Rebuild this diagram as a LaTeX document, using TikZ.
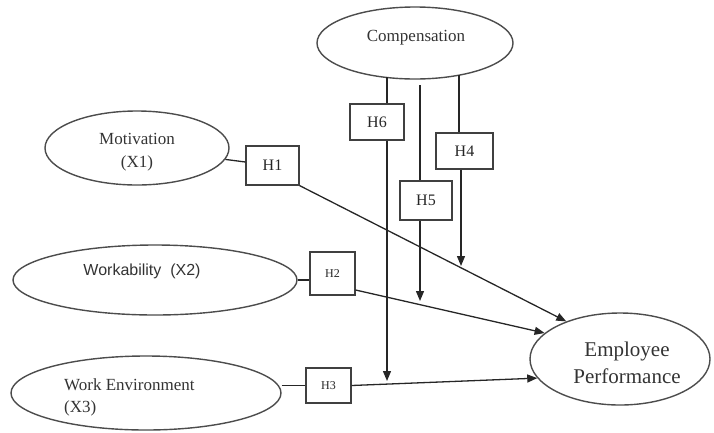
\documentclass[tikz,border=0pt]{standalone}
\usepackage{fontspec}
\setmainfont{Liberation Serif}
\newfontfamily\arialfont{Liberation Sans}
\usetikzlibrary{shapes.geometric,arrows.meta}
\tikzset{
  var/.style={ellipse,draw=black!70,line width=1.4pt,inner sep=0pt,text=black!80},
  hyp/.style={rectangle,draw=black!75,line width=1.2pt,inner sep=0pt,text=black!85,font=\fontsize{16}{18}\selectfont},
  hyps/.style={hyp,font=\fontsize{12}{14}\selectfont},
  conn/.style={line width=1.3pt,draw=black!85},
  arr/.style={conn,-{Triangle[length=10pt,width=8pt]}},
  txt/.style={text=black!80,inner sep=0pt}
}
\begin{document}
\begin{tikzpicture}[x=1pt,y=-1pt]
\useasboundingbox (0,0) rectangle (714,432);
% variables
\node[var,minimum width=196pt,minimum height=72pt] (comp) at (415,43) {};
\node[txt,font=\fontsize{17}{20}\selectfont] (comptext) at (416,38) {Compensation};
\node[var,minimum width=184pt,minimum height=74pt] (mot) at (137,148) {};
\node[txt,align=center,font=\fontsize{17}{23}\selectfont] (mottext) at (137,152) {Motivation\\(X1)};
\node[var,minimum width=284pt,minimum height=70pt] (work) at (155,280) {};
\node[txt,font=\arialfont\fontsize{16}{19}\selectfont] (worktext) at (142,271) {Workability\ \ (X2)};
\node[var,minimum width=270pt,minimum height=74pt] (we) at (146,393) {};
\node[txt,align=left,anchor=west,font=\fontsize{17}{22}\selectfont] (wetext) at (64,397) {Work Environment\\(X3)};
\node[var,minimum width=180pt,minimum height=92pt] (emp) at (620,359) {};
\node[txt,align=center,font=\fontsize{21}{27}\selectfont] (emptext) at (627,363) {Employee\\Performance};
% hypothesis boxes
\node[hyp,minimum width=53pt,minimum height=39pt] (h1) at (272.5,165.5) {H1};
\node[hyps,minimum width=45pt,minimum height=43pt] (h2) at (332.5,273.5) {H2};
\node[hyps,minimum width=45pt,minimum height=35pt] (h3) at (328.5,385.5) {H3};
\node[hyp,minimum width=57pt,minimum height=36pt] (h4) at (464.5,151) {H4};
\node[hyp,minimum width=52pt,minimum height=39pt] (h5) at (426,200.5) {H5};
\node[hyp,minimum width=54pt,minimum height=36pt] (h6) at (377,122) {H6};
% coordinates for moderator lines
\coordinate (c6) at (387,77);
\coordinate (t6) at (387,381);
\coordinate (c5) at (420,85);
\coordinate (t5) at (420,301);
\coordinate (c4) at (459,75);
\coordinate (t4) at (461,266);
% direct paths
\draw[conn] (mot) -- (h1);
\draw[arr] (h1.south east) -- (emp.145);
\draw[conn] (work.east) -- (work.east -| h2.west);
\draw[arr] (h2.east |- 0,290) -- (emp.161);
\draw[conn] (we.east |- h3.west) -- (h3.west);
\draw[arr] (h3.east) -- (emp.193);
% moderator paths
\draw[conn] (c6) -- (c6 |- h6.north);
\draw[arr] (c6 |- h6.south) -- (t6);
\draw[conn] (c5) -- (c5 |- h5.north);
\draw[arr] (c5 |- h5.south) -- (t5);
\draw[conn] (c4) -- (c4 |- h4.north);
\draw[arr] (t4 |- h4.south) -- (t4);
\end{tikzpicture}
\end{document}
